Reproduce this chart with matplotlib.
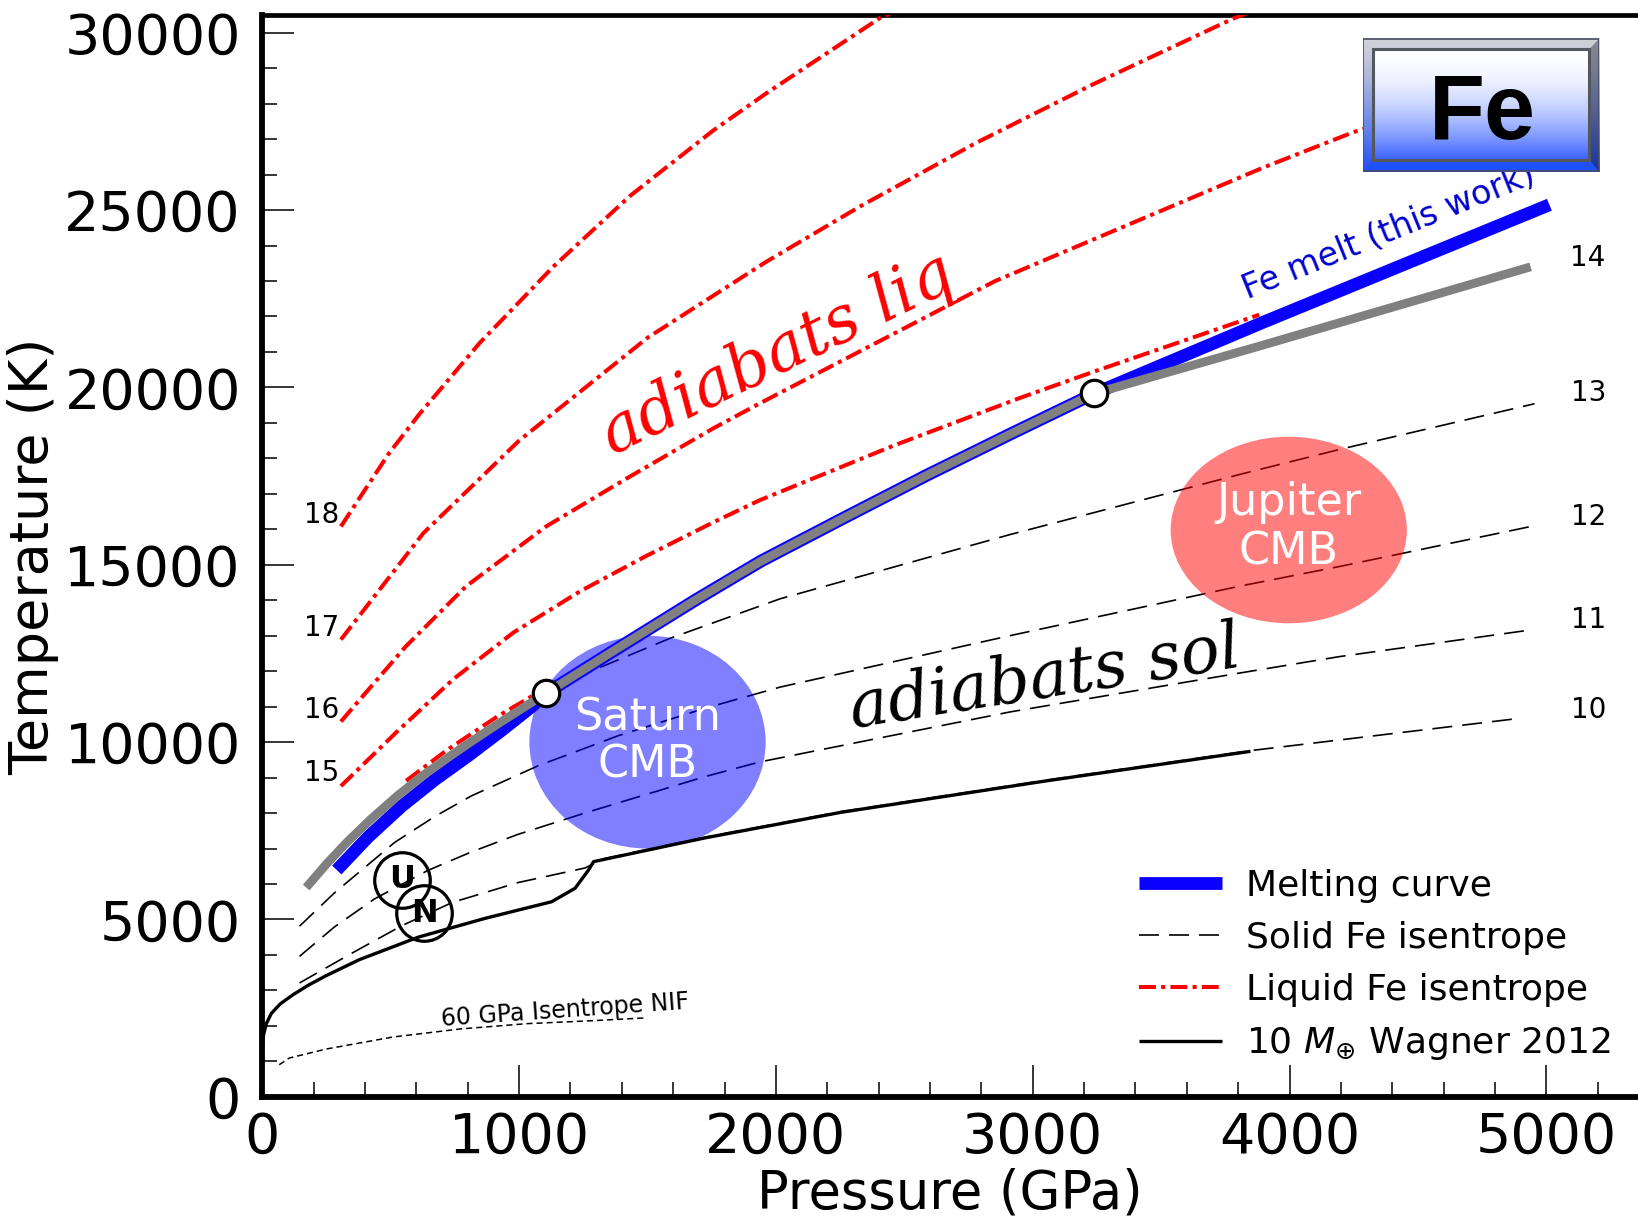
import numpy as np
import matplotlib
matplotlib.use("Agg")
import matplotlib.pyplot as plt
from matplotlib.patches import Ellipse, Rectangle, Polygon
from matplotlib.ticker import MultipleLocator

# ---------------- data (P in GPa, T in K) ----------------
# Fe melting curve (this work)
melt_P = [290, 413, 543, 672, 802, 932, 1049, 1105, 1365, 1690, 1941, 2267, 2592, 2920, 3240, 3895, 5012]
melt_T = [6393, 7331, 8195, 8940, 9616, 10330, 11000, 11380, 12560, 14020, 15100, 16330, 17540, 18710, 19830, 21830, 25150]

# gray reference curve
gray_P = [171, 250, 329, 420, 524, 620, 719, 820, 914, 1010, 1105, 1365, 1690, 1941, 2267, 2592, 2920, 3240, 3895, 4939]
gray_T = [5900, 6565, 7173, 7810, 8475, 9030, 9545, 10045, 10496, 10942, 11380, 12560, 14020, 15100, 16330, 17540, 18710, 19830, 21190, 23400]

# intersections of isentropes with the melting curve
cross_P = [1105, 3240]
cross_T = [11380, 19830]

# solid Fe isentropes
sol10_P = [145, 349, 545, 740, 996, 1256, 1335, 1724, 2253, 3046, 3848, 4194, 4895]
sol10_T = [3210, 4050, 4830, 5480, 6040, 6450, 6720, 7320, 8040, 8920, 9760, 10060, 10670]
sol11_P = [145, 281, 437, 644, 813, 996, 1256, 1725, 1937, 2911, 3808, 4194, 4947]
sol11_T = [3960, 4790, 5580, 6380, 6900, 7400, 8000, 9030, 9440, 10850, 11950, 12410, 13170]
sol12_P = [145, 281, 515, 671, 813, 1073, 1386, 1722, 2016, 2911, 3808, 4194, 4947]
sol12_T = [4810, 5750, 7170, 7900, 8480, 9330, 10180, 10950, 11550, 13000, 14400, 14950, 16090]
sol13_P = [1105, 1300, 1589, 2016, 2911, 3808, 4194, 4954]
sol13_T = [11380, 12060, 12930, 14040, 15850, 17550, 18250, 19540]

# liquid Fe isentropes
liq14_P = [560, 719, 914, 1105]
liq14_T = [8910, 9775, 10716, 11530]
liq15_P = [306, 521, 743, 978, 1237, 1498, 1757, 1937, 2455, 2949, 3240, 3882]
liq15_T = [8760, 10270, 11770, 13090, 14250, 15260, 16200, 16820, 18350, 19700, 20450, 22050]
liq16_P = [306, 559, 793, 1105, 1432, 1757, 1937, 2854, 3895, 4250, 4700]
liq16_T = [10580, 12700, 14390, 16080, 17490, 18850, 19550, 23000, 26190, 27200, 28200]
liq17_P = [306, 627, 1000, 1500, 1964, 2327, 2781, 3236, 3781, 3850]
liq17_T = [12890, 15890, 18500, 21400, 23550, 25100, 26900, 28550, 30400, 30600]
liq18_P = [306, 494, 612, 846, 1134, 1432, 1757, 1964, 2404, 2460]
liq18_T = [16080, 18150, 19250, 21250, 23410, 25400, 27250, 28300, 30410, 30600]

# 10 Earth-mass planet profile (Wagner 2012)
wag_P = [0, 5, 15, 35, 70, 120, 180, 250, 379, 607, 867, 1127, 1218, 1270, 1290, 1335,
         1724, 2253, 3046, 3848]
wag_T = [1450, 1750, 2050, 2350, 2620, 2880, 3150, 3420, 3870, 4500, 5030, 5500, 5880, 6390, 6630, 6700,
         7300, 8020, 8900, 9740]

# 60 GPa NIF isentrope
nif_P = [66, 105, 249, 509, 770, 1030, 1290, 1486]
nif_T = [904, 1093, 1347, 1686, 1912, 2062, 2147, 2223]

# isentrope labels: (text, P, T)
iso_labels_right = [("14", 5162, 23650), ("13", 5164, 19830), ("12", 5164, 16350),
                    ("11", 5164, 13440), ("10", 5164, 10900)]
iso_labels_left = [("18", 231, 16400), ("17", 231, 13210), ("16", 231, 10910), ("15", 231, 9120)]

# planetary core-mantle boundaries: (P, T, width, height)
saturn_cmb = (1500, 10000, 920, 6000)
jupiter_cmb = (3997, 15980, 920, 5260)

# Uranus / Neptune
ice_giants = [("U", 543, 6120), ("N", 631, 5170)]

# ---------------- figure ----------------
W, H = 1638, 1217
fig = plt.figure(figsize=(W / 100, H / 100), dpi=100)
x0, y0, ytop = 262.3, 1096.8, 15.0
ax = fig.add_axes([x0 / W, 1 - y0 / H, 1 - x0 / W, (y0 - ytop) / H])
ax.set_xlim(0, 5357)
ax.set_ylim(0, 30500)

sol_style = dict(color="black", lw=1.2, linestyle=(0, (12, 6)), zorder=2)
liq_style = dict(color="red", lw=2.9, linestyle=(0, (4.2, 1.3, 1.0, 1.3)), zorder=4.5)

h_sol, = ax.plot(sol10_P, sol10_T, **sol_style)
for P, T in [(sol11_P, sol11_T), (sol12_P, sol12_T), (sol13_P, sol13_T)]:
    ax.plot(P, T, **sol_style)

h_liq, = ax.plot(liq15_P, liq15_T, **liq_style)
for P, T in [(liq14_P, liq14_T), (liq16_P, liq16_T), (liq17_P, liq17_T), (liq18_P, liq18_T)]:
    ax.plot(P, T, **liq_style)

h_wag, = ax.plot(wag_P, wag_T, color="black", lw=2.4, zorder=4, solid_capstyle="butt")
ax.plot(nif_P, nif_T, color="black", lw=1.1, linestyle=(0, (4, 2.6)), zorder=4)

h_melt, = ax.plot(melt_P, melt_T, color="#0a00ff", lw=9.2, zorder=5, solid_capstyle="butt",
                  solid_joinstyle="round")
ax.plot(gray_P, gray_T, color="#808080", lw=6.3, zorder=6, solid_capstyle="butt",
        solid_joinstyle="round")

ax.plot(cross_P, cross_T, "o", ms=19, mfc="white", mec="black", mew=2.3, zorder=9)

for (cx, cy, w, h), col in [(saturn_cmb, "blue"), (jupiter_cmb, "red")]:
    ax.add_patch(Ellipse((cx, cy), w, h, facecolor=col, alpha=0.5, lw=0, zorder=3))

ax.text(1500, 10340, "Saturn", color="white", fontsize=32, ha="center", va="baseline", zorder=7)
ax.text(1500, 9000, "CMB", color="white", fontsize=32, ha="center", va="baseline", zorder=7)
ax.text(3997, 16400, "Jupiter", color="white", fontsize=32, ha="center", va="baseline", zorder=7)
ax.text(3997, 15000, "CMB", color="white", fontsize=32, ha="center", va="baseline", zorder=7)

for name, P, T in ice_giants:
    ax.plot(P, T, "o", ms=40, mfc="none", mec="black", mew=2.3, zorder=7)
    ax.text(P, T, name, fontsize=23, fontweight="bold", ha="center", va="center", zorder=7)

for s, P, T in iso_labels_right + iso_labels_left:
    ax.text(P, T, s, fontsize=20, ha="center", va="center", zorder=7)

ax.text(2010, 20910, "adiabats liq", color="red", fontsize=47, family="DejaVu Serif",
        style="italic", rotation=26, rotation_mode="anchor", ha="center", va="center", zorder=7)
ax.text(3047, 11780, "adiabats sol", color="black", fontsize=47, family="DejaVu Serif",
        style="italic", rotation=9, rotation_mode="anchor", ha="center", va="center", zorder=7)
ax.text(4387, 24380, "Fe melt (this work)", color="mediumblue", fontsize=24,
        rotation=22, rotation_mode="anchor", ha="center", va="center", zorder=7)
ax.text(1178, 2450, "60 GPa Isentrope NIF", fontsize=17, rotation=4,
        rotation_mode="anchor", ha="center", va="center", zorder=7)

# axes styling
ax.set_xticks(range(0, 5001, 1000))
ax.set_yticks(range(0, 30001, 5000))
ax.xaxis.set_minor_locator(MultipleLocator(200))
ax.yaxis.set_minor_locator(MultipleLocator(1000))
ax.tick_params(which="major", direction="in", length=23, width=1.1, labelsize=40)
ax.tick_params(which="minor", direction="in", length=11, width=1.1)
ax.tick_params(axis="y", which="major", pad=15.5)
ax.tick_params(axis="x", which="major", pad=10)
ax.tick_params(top=False, right=False, which="both")
ax.spines["right"].set_visible(False)
ax.spines["left"].set_linewidth(4.2)
ax.spines["bottom"].set_linewidth(4.2)
ax.spines["top"].set_linewidth(3.4)
ax.set_xlabel("Pressure (GPa)", fontsize=38, labelpad=2)
ax.set_ylabel("Temperature (K)", fontsize=39, labelpad=4)

leg = ax.legend([h_melt, h_sol, h_liq, h_wag],
                ["Melting curve", "Solid Fe isentrope", "Liquid Fe isentrope",
                 r"10 $M_{\oplus}$ Wagner 2012"],
                loc="lower left", bbox_to_anchor=(0.637, 0.032), frameon=False,
                fontsize=26, handlelength=2.3, handletextpad=0.67, labelspacing=0.5,
                borderpad=0, borderaxespad=0)
leg.set_zorder(10)

# "Fe" element badge
bx0, by0, bx1, by1 = 1362.7, 38.3, 1599.3, 171.7
bx = fig.add_axes([bx0 / W, 1 - by1 / H, (bx1 - bx0) / W, (by1 - by0) / H])
bx.set_xlim(0, 1)
bx.set_ylim(0, 1)
bx.set_axis_off()
bx.set_zorder(20)

t = np.linspace(0, 1, 256)[:, None, None]
outer_top = np.array([0.82, 0.82, 0.84])
outer_bot = np.array([0.12, 0.30, 0.97])
outer = outer_top * (1 - t ** 1.3) + outer_bot * t ** 1.3
outer = np.repeat(outer, 4, axis=1)
bx.imshow(outer, extent=(0, 1, 0, 1), aspect="auto", origin="upper", zorder=1)

xi0, xi1, yi0, yi1 = 0.045, 0.957, 0.088, 0.917
bx.add_patch(Polygon([(1, 0), (1, 1), (xi1, yi1), (xi1, yi0)], closed=True,
                     facecolor="black", alpha=0.35, lw=0, zorder=2))
bx.add_patch(Polygon([(0, 0), (1, 0), (xi1, yi0), (xi0, yi0)], closed=True,
                     facecolor="#1a50ff", alpha=0.6, lw=0, zorder=2))
inner_top = np.array([1.0, 1.0, 1.0])
inner_bot = np.array([0.22, 0.38, 1.0])
f = t ** 1.9
inner = inner_top * (1 - f) + inner_bot * f
inner = np.repeat(inner, 4, axis=1)
bx.imshow(inner, extent=(xi0, xi1, yi0, yi1), aspect="auto", origin="upper", zorder=3)
bx.add_patch(Rectangle((xi0, yi0), xi1 - xi0, yi1 - yi0, fill=False,
                       edgecolor="#55575f", lw=2.2, zorder=4))
bx.add_patch(Rectangle((0.003, 0.005), 0.994, 0.99, fill=False,
                       edgecolor="#4a4d66", lw=1.2, zorder=4))
bx.text(0.507, 0.243, "Fe", fontsize=66, fontweight="bold", family="Liberation Sans",
        ha="center", va="baseline", zorder=5)

fig.savefig("out.png", dpi=100)
